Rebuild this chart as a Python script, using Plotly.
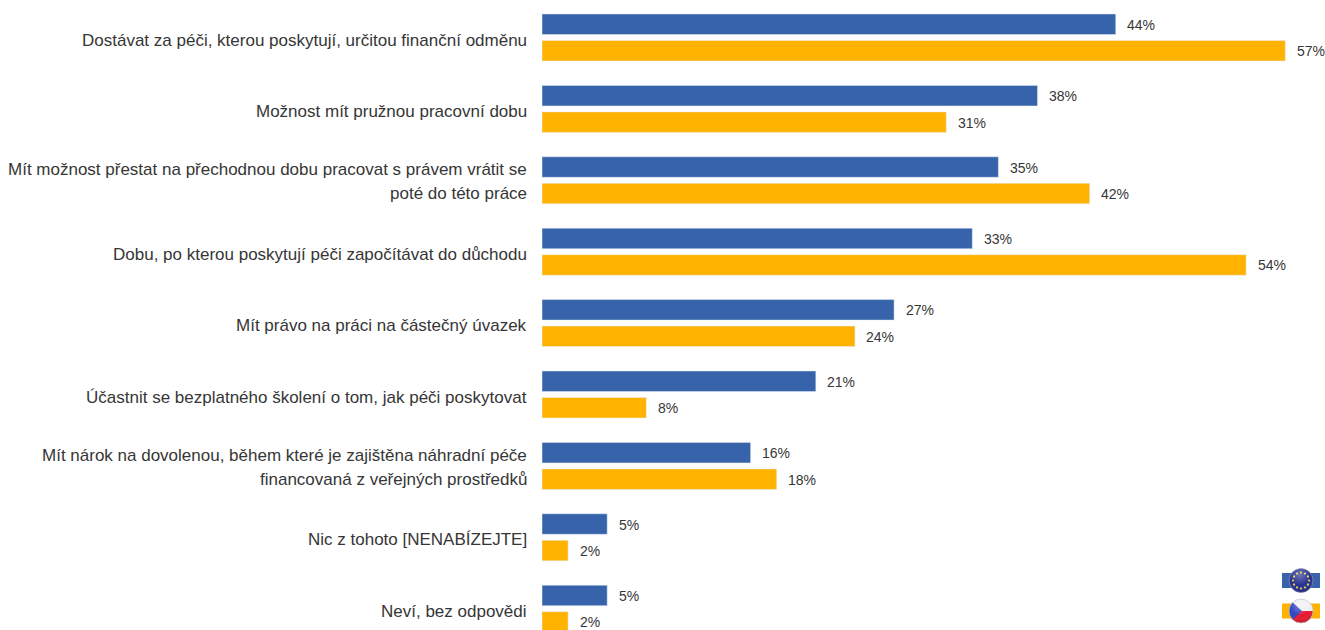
import base64
import plotly.graph_objects as go

categories = [
    "Dostávat za péči, kterou poskytují, určitou finanční odměnu",
    "Možnost mít pružnou pracovní dobu",
    "Mít možnost přestat na přechodnou dobu pracovat s právem vrátit se<br>poté do této práce",
    "Dobu, po kterou poskytují péči započítávat do důchodu",
    "Mít právo na práci na částečný úvazek",
    "Účastnit se bezplatného školení o tom, jak péči poskytovat",
    "Mít nárok na dovolenou, během které je zajištěna náhradní péče<br>financovaná z veřejných prostředků",
    "Nic z tohoto [NENABÍZEJTE]",
    "Neví, bez odpovědi",
]
eu_values = [44, 38, 35, 33, 27, 21, 16, 5, 5]
cz_values = [57, 31, 42, 54, 24, 8, 18, 2, 2]

BLUE = "#3763AB"
ORANGE = "#FFB300"
TEXT = "#363636"
FONT = "Liberation Sans"

W, H, LEFT = 1325, 630, 542
PX_PER_PCT = 13.04
GROUP_PX = 71.4
FIRST_CENTER = 37.5


def svg_uri(svg):
    return "data:image/svg+xml;base64," + base64.b64encode(svg.encode()).decode()


SOFT = '<filter id="s"><feGaussianBlur stdDeviation="0.35"/></filter>'
GLOSS = ('<radialGradient id="h" cx="45%" cy="25%" r="75%"><stop offset="0" stop-color="#fff" stop-opacity="0.35"/>'
         '<stop offset="0.6" stop-color="#fff" stop-opacity="0"/><stop offset="1" stop-color="#000" stop-opacity="0.18"/>'
         '</radialGradient>')

stars = "".join(
    f'<circle cx="19" cy="13" r="1.1" fill="#e8d24a" transform="rotate({a} 19 13) translate(0 -8)"/>'
    for a in range(0, 360, 30)
)
eu_icon = svg_uri(
    '<svg xmlns="http://www.w3.org/2000/svg" width="38" height="26" viewBox="0 0 38 26">'
    f'<defs>{SOFT}{GLOSS}</defs><g filter="url(#s)">'
    f'<rect x="0" y="5.5" width="38" height="15" fill="{BLUE}"/>'
    '<circle cx="19" cy="13" r="12" fill="#26308f" stroke="#9aa0c4" stroke-width="0.6"/>'
    + stars + '<circle cx="19" cy="13" r="12" fill="url(#h)"/></g></svg>'
)
cz_icon = svg_uri(
    '<svg xmlns="http://www.w3.org/2000/svg" width="38" height="26" viewBox="0 0 38 26">'
    f'<defs>{SOFT}{GLOSS}<clipPath id="c"><circle cx="19" cy="13" r="12"/></clipPath></defs><g filter="url(#s)">'
    f'<rect x="0" y="5.5" width="38" height="15" fill="{ORANGE}"/>'
    '<g clip-path="url(#c)"><rect x="7" y="1" width="24" height="12" fill="#f0f0f4"/>'
    '<rect x="7" y="13" width="24" height="12" fill="#e8182e"/>'
    '<path d="M7 1 L20 13 L7 25 Z" fill="#2f44c0"/></g>'
    '<circle cx="19" cy="13" r="12" fill="url(#h)" stroke="#c4c6d0" stroke-width="0.7"/></g></svg>'
)

fig = go.Figure()
fig.add_trace(go.Bar(y=categories, x=eu_values, orientation="h", marker_color=BLUE, name="EU"))
fig.add_trace(go.Bar(y=categories, x=cz_values, orientation="h", marker_color=ORANGE, name="CZ"))

annotations = []
# value labels next to the bars
for offset, values in ((-12.8, eu_values), (13.7, cz_values)):
    for cat, v in zip(categories, values):
        annotations.append(dict(
            x=v, y=cat, text=f"{v}%", showarrow=False, xanchor="left", yanchor="middle",
            xshift=9.5, yshift=-offset, font=dict(family=FONT, size=14, color=TEXT),
        ))

# category labels, one annotation per line because the line spacing is wider than plotly's
for cat in categories:
    lines = cat.split("<br>")
    shifts = [-2.5] if len(lines) == 1 else [10.5, -13.5]
    for line, shift in zip(lines, shifts):
        annotations.append(dict(
            x=(529 - LEFT) / (W - LEFT), xref="paper", y=cat, text=line, showarrow=False,
            xanchor="right", yanchor="middle", yshift=shift,
            font=dict(family=FONT, size=17, color=TEXT),
        ))

images = []
for uri, top in ((eu_icon, 567.5), (cz_icon, 598)):
    images.append(dict(
        source=uri, xref="paper", yref="paper", xanchor="left", yanchor="top",
        x=(1282 - LEFT) / (W - LEFT), y=1 - top / H,
        sizex=38 / (W - LEFT), sizey=26 / H, sizing="stretch", layer="above",
    ))

fig.update_layout(
    width=W, height=H, margin=dict(l=LEFT, r=0, t=0, b=0),
    paper_bgcolor="white", plot_bgcolor="white", showlegend=False,
    barmode="group", bargap=0.2577, bargroupgap=0.226,
    annotations=annotations, images=images,
    font=dict(family=FONT, color=TEXT),
)
fig.update_xaxes(range=[0, (W - LEFT) / PX_PER_PCT], visible=False)
fig.update_yaxes(
    range=[(H - FIRST_CENTER) / GROUP_PX, -FIRST_CENTER / GROUP_PX],
    showgrid=False, zeroline=False, showline=False, ticks="", automargin=False,
    showticklabels=False,
)

fig.write_html("out.html", config=dict(displayModeBar=False),
               post_script="document.body.style.margin='0';document.body.style.overflow='hidden';")
